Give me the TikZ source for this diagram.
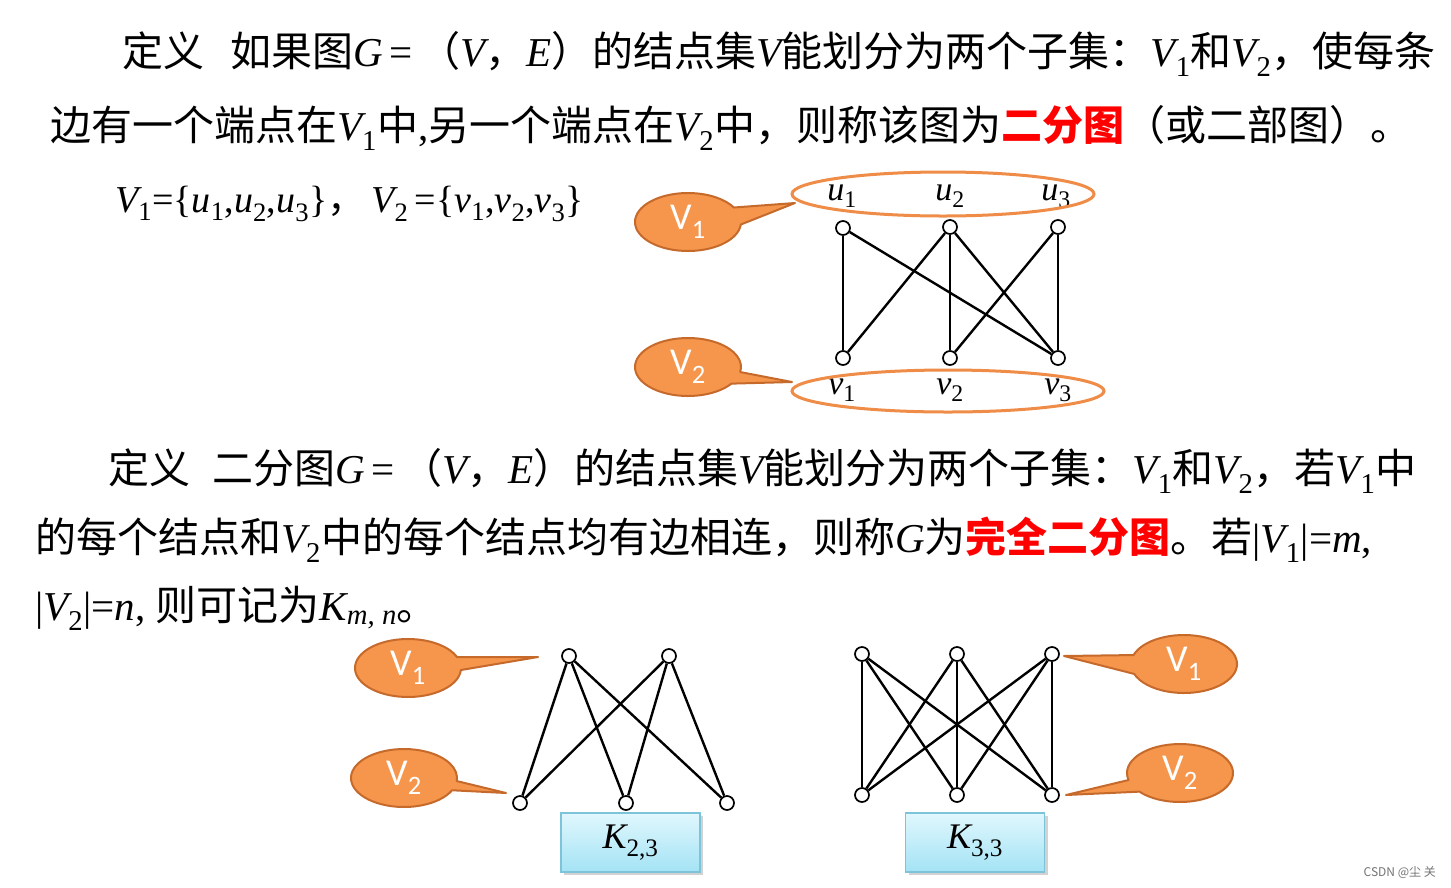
\documentclass[tikz,border=0pt]{standalone}
\usepackage{fontspec}
\setmainfont{Liberation Serif}
\newfontfamily\cjk{Noto Sans CJK SC}
\newfontfamily\callfont{Carlito}
\usetikzlibrary{shadows}
\definecolor{orfill}{HTML}{F5964C}
\definecolor{orline}{HTML}{C66A2C}
\definecolor{ellline}{HTML}{EE8C48}
\definecolor{boxtop}{HTML}{E0F7FD}
\definecolor{boxbot}{HTML}{A4E3F5}
\definecolor{boxline}{HTML}{7DC3D9}
\newcommand\mi[1]{{\rmfamily\itshape #1}}
\newcommand\mr[1]{{\rmfamily #1}}
\newcommand\sub[1]{\textsubscript{\rmfamily\upshape #1}}
\newcommand\mycallout[4]{%
  \path[callshape] (#1) ++(#2:53 and 29) arc[start angle=#2,end angle=#3,x radius=53,y radius=29] -- (#4) -- cycle;
}
\tikzset{
  txt/.style={anchor=base west, inner sep=0, font=\fontsize{41}{48}\selectfont\cjk},
  vtx/.style={circle, draw, fill=white, inner sep=0, minimum size=14pt, line width=1.7pt},
  edge/.style={line width=2.4pt},
  lbl/.style={inner sep=0, font=\fontsize{34}{40}\selectfont\rmfamily\itshape},
  ell/.style={draw=ellline, line width=3pt},
  callshape/.style={fill=orfill, draw=orline, line width=2pt, line join=round},
  calltext/.style={text=white, inner sep=0, font=\fontsize{38}{44}\selectfont\callfont},
  kbox/.style={draw=boxline, line width=1.2pt, top color=boxtop, bottom color=boxbot,
    minimum width=139pt, minimum height=59pt, inner sep=0,
    drop shadow={shadow xshift=3pt, shadow yshift=-3pt, fill=black!35},
    font=\fontsize{36}{40}\selectfont\rmfamily}
}
\begin{document}
\begin{tikzpicture}[x=1pt,y=-1pt]
\useasboundingbox (0,0) rectangle (1451,887);
\fill[white] (0,0) rectangle (1451,887);

% ---- text lines ----
\node[txt] (l1) at (122,66) {定义\hspace{26pt}如果图\mi{G}\mr{\,=\,}（\mi{V}，\mi{E}）的结点集\mi{V}能划分为两个子集：\mi{V}\sub{1}和\mi{V}\sub{2}，使每条};
\node[txt] (l2) at (50,140) {边有一个端点在\mi{V}\sub{1}中\mr{,}另一个端点在\mi{V}\sub{2}中，则称该图为{\color{red}\bfseries 二分图}（或二部图）。};
\node[anchor=base west, inner sep=0, font=\fontsize{38}{44}\selectfont\rmfamily] (sets) at (115,212)
  {\mi{V}\sub{1}=\{\mi{u}\sub{1},\mi{u}\sub{2},\mi{u}\sub{3}\}{\cjk ，}\hspace{6pt}\mi{V}\sub{2}\,=\{\mi{v}\sub{1},\mi{v}\sub{2},\mi{v}\sub{3}\}};
\node[txt] (l3) at (108,483) {定义\hspace{22pt}二分图\mi{G}\mr{\,=\,}（\mi{V}，\mi{E}）的结点集\mi{V}能划分为两个子集：\mi{V}\sub{1}和\mi{V}\sub{2}，若\mi{V}\sub{1}中};
\node[txt] (l4) at (35,552) {的每个结点和\mi{V}\sub{2}中的每个结点均有边相连，则称\mi{G}为{\color{red}\bfseries 完全二分图}。若\mr{|}\mi{V}\sub{1}\mr{|=}\mi{m}\mr{,}};
\node[txt] (l5) at (35,620) {\mr{|}\mi{V}\sub{2}\mr{|=}\mi{n}\mr{, }则可记为\mi{K}\textsubscript{\rmfamily\itshape m, n}。};

% ---- top graph ----
\node[vtx] (u1) at (843,228) {};
\node[vtx] (u2) at (950,227) {};
\node[vtx] (u3) at (1058,227) {};
\node[vtx] (v1) at (843,358) {};
\node[vtx] (v2) at (950,358) {};
\node[vtx] (v3) at (1058,358) {};
\draw[edge] (u1) -- (v1);
\draw[edge] (u1) -- (v3);
\draw[edge] (u2) -- (v1);
\draw[edge] (u2) -- (v2);
\draw[edge] (u2) -- (v3);
\draw[edge] (u3) -- (v2);
\draw[edge] (u3) -- (v3);
\node[lbl] (lu1) at (842,196) {u\sub{1}};
\node[lbl] (lu2) at (950,196) {u\sub{2}};
\node[lbl] (lu3) at (1056,196) {u\sub{3}};
\node[lbl] (lv1) at (842,390) {v\sub{1}};
\node[lbl] (lv2) at (950,390) {v\sub{2}};
\node[lbl] (lv3) at (1058,390) {v\sub{3}};
\draw[ell] (943,194) ellipse [x radius=151, y radius=22];
\draw[ell] (948,391) ellipse [x radius=156, y radius=21];

% ---- callouts ----
\coordinate (ca) at (688,222); \coordinate (ta) at (795,203);
\coordinate (cb) at (688,367); \coordinate (tb) at (792,382);
\coordinate (cc) at (408,668); \coordinate (tc) at (538,657);
\coordinate (cd) at (404,778); \coordinate (td) at (506,793);
\coordinate (ce) at (1184,664); \coordinate (te) at (1064,656);
\coordinate (cf) at (1180,773); \coordinate (tf) at (1066,795);
\mycallout{ca}{5}{330}{ta}
\mycallout{cb}{35}{370}{tb}
\mycallout{cc}{4}{338}{tc}
\mycallout{cd}{25}{366}{td}
\mycallout{ce}{198}{520}{te}
\mycallout{cf}{166}{500}{tf}
\node[calltext] (na) at (ca) {V\textsubscript{1}};
\node[calltext] (nb) at (cb) {V\textsubscript{2}};
\node[calltext] (nc) at (cc) {V\textsubscript{1}};
\node[calltext] (nd) at (cd) {V\textsubscript{2}};
\node[calltext] (ne) at (ce) {V\textsubscript{1}};
\node[calltext] (nf) at (cf) {V\textsubscript{2}};

% ---- K_{2,3} ----
\node[vtx] (a1) at (569,656) {};
\node[vtx] (a2) at (669,656) {};
\node[vtx] (b1) at (520,803) {};
\node[vtx] (b2) at (626,803) {};
\node[vtx] (b3) at (727,803) {};
\foreach \s in {a1,a2} \foreach \t in {b1,b2,b3} \draw[edge] (\s) -- (\t);
\node[kbox] (k23) at (630.5,842.5) {\mi{K}\sub{2,3}};

% ---- K_{3,3} ----
\node[vtx] (c1) at (862,654) {};
\node[vtx] (c2) at (957,654) {};
\node[vtx] (c3) at (1052,654) {};
\node[vtx] (d1) at (862,795) {};
\node[vtx] (d2) at (957,795) {};
\node[vtx] (d3) at (1052,795) {};
\foreach \s in {c1,c2,c3} \foreach \t in {d1,d2,d3} \draw[edge] (\s) -- (\t);
\node[kbox] (k33) at (975,842.5) {\mi{K}\sub{3,3}};

\node[anchor=base east, inner sep=0, text=black!55, font=\fontsize{12}{14}\selectfont\cjk] (csdn) at (1436,876) {CSDN @尘 关};
\end{tikzpicture}
\end{document}
